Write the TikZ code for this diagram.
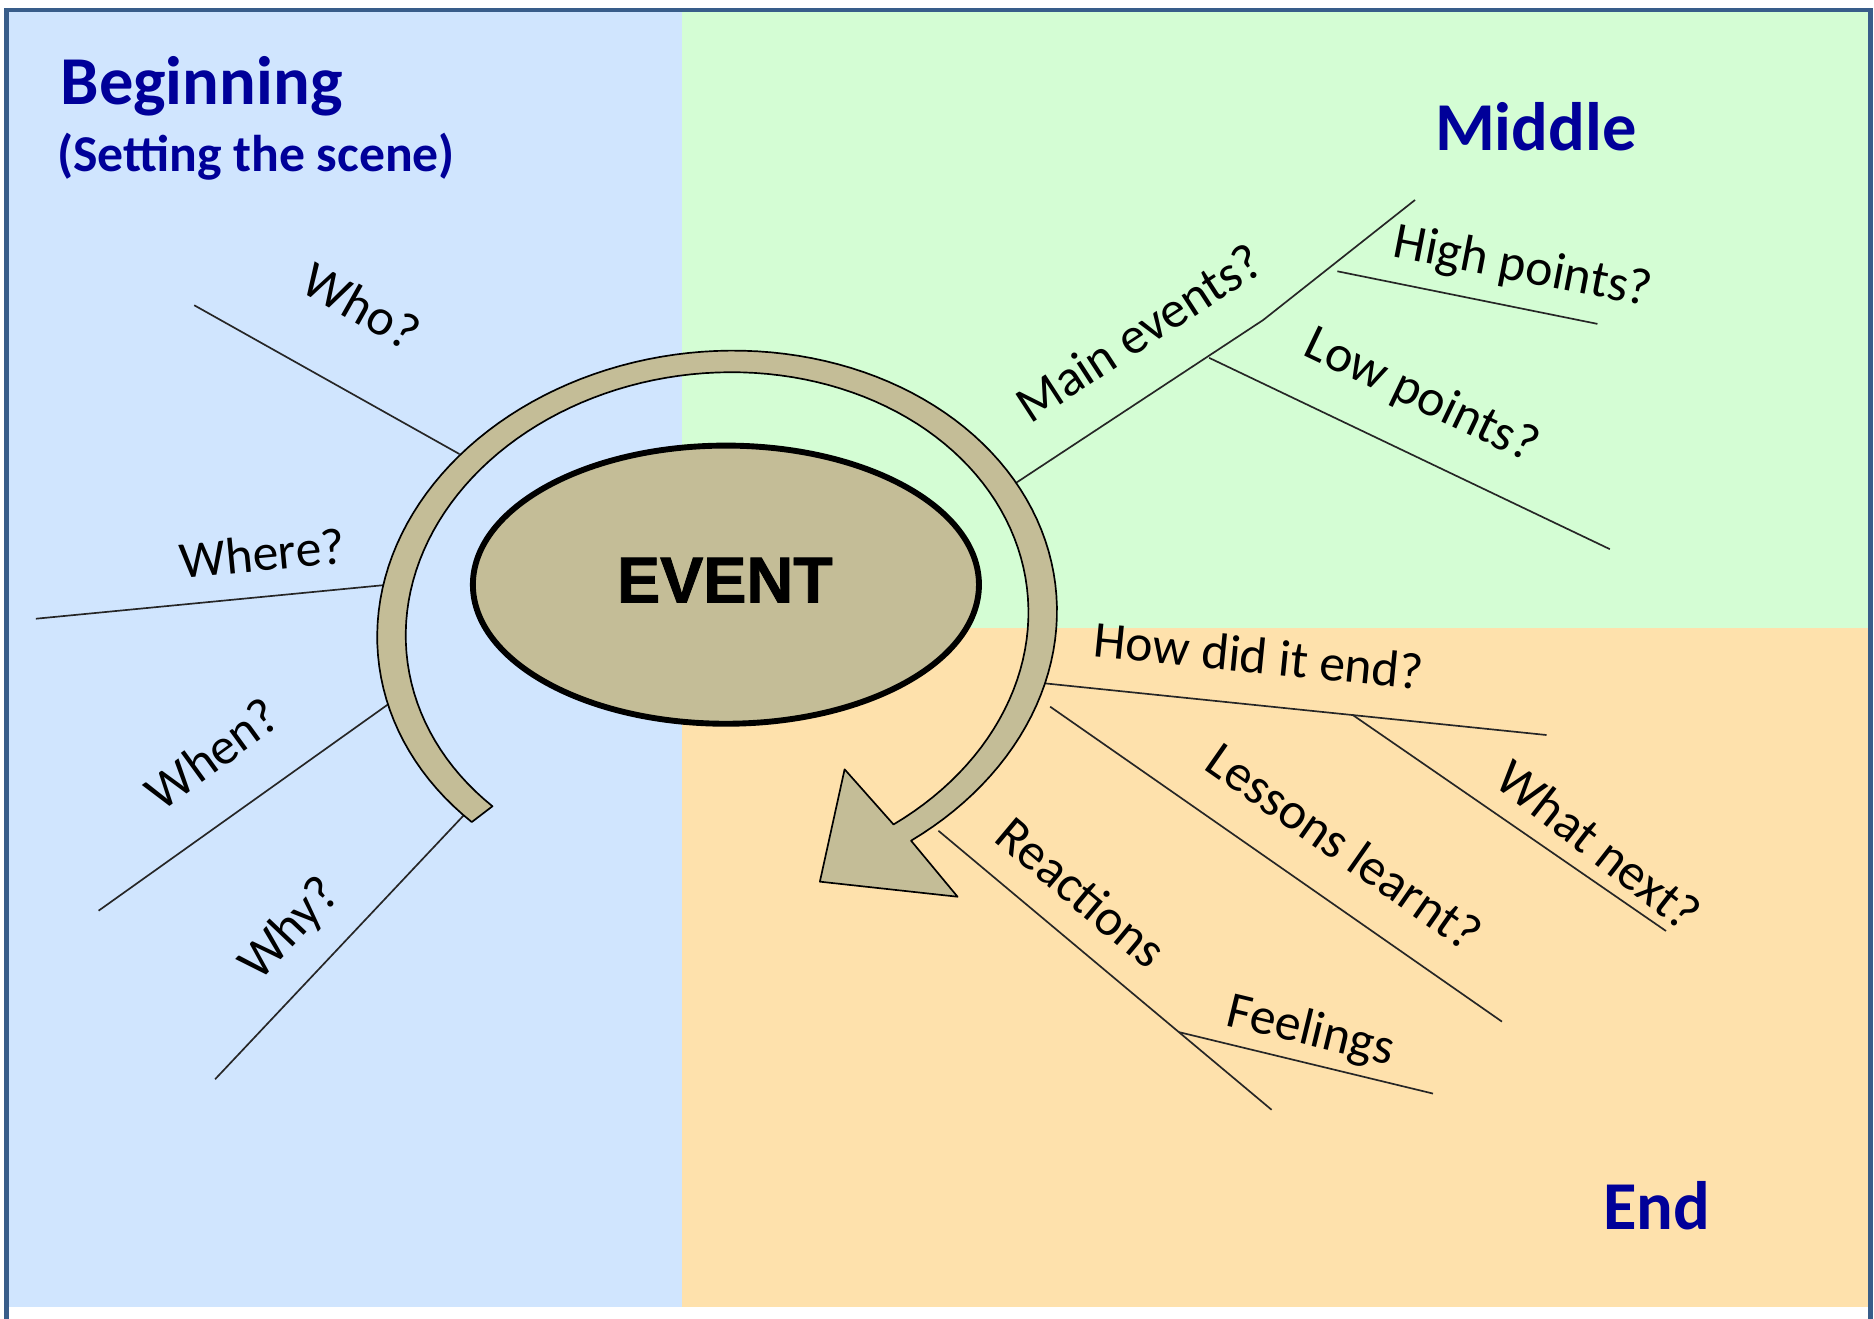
\documentclass[tikz,border=0pt]{standalone}
\usepackage{fontspec}
\setmainfont{Carlito}
\newfontfamily\arialfont{Liberation Sans}[BoldFeatures={FakeBold=1.3}]
\usetikzlibrary{shapes.geometric}
\definecolor{begblue}{RGB}{208,229,254}
\definecolor{midgreen}{RGB}{212,253,212}
\definecolor{endpeach}{RGB}{254,225,172}
\definecolor{tan}{RGB}{196,189,151}
\definecolor{hdblue}{RGB}{0,0,153}
\definecolor{framecol}{RGB}{56,93,138}

\begin{document}
\begin{tikzpicture}[x=0.01cm,y=-0.01cm,samples=120,
    twig/.style={draw=black!85,line width=0.4pt},
    lbl/.style={font=\fontsize{12.3}{14}\selectfont,inner sep=0pt},
    head/.style={font=\fontsize{16.3}{19}\selectfont\bfseries,text=hdblue,inner sep=0pt,anchor=base west},
    band/.style={fill=tan,draw=black,line width=0.4pt,line join=round}]
    \useasboundingbox (0,0) rectangle (1568,1103.6);
    \fill[white] (0,0) rectangle (1568,1103.6);
    % the three parts
    \fill[begblue] (5,8) rectangle (570.4,1094);
    \fill[midgreen] (570.4,8) rectangle (1565,525.8);
    \fill[endpeach] (570.4,525.8) rectangle (1565,1094);
    \draw[framecol,line width=1pt] (5.5,1110) -- (5.5,8.5) -- (1565,8.5) -- (1565,1110);
    \node[head] (beginning) at (50,87.4) {Beginning};
    \node[head,font=\fontsize{12.3}{14}\selectfont\bfseries] (scene) at (47,143.7) {(Setting the scene)};
    \node[head] (middle) at (1200,126) {Middle};
    \node[head] (ending) at (1341,1028.7) {End};
    % branch ends
    \coordinate (who-a) at (162.5,255.4);   \coordinate (who-b) at (384.4,379.9);
    \coordinate (where-a) at (30,517.7);    \coordinate (where-b) at (322.2,489.5);
    \coordinate (when-a) at (82.5,762);     \coordinate (when-b) at (324.5,589.5);
    \coordinate (why-a) at (180,903);       \coordinate (why-b) at (388,682.2);
    \coordinate (main-a) at (849.4,404.5);  \coordinate (main-k) at (1057,267.7);
    \coordinate (main-b) at (1184,167.3);
    \coordinate (low-a) at (1011.7,299.4);  \coordinate (low-b) at (1347,459.5);
    \coordinate (high-a) at (1119,227);     \coordinate (high-b) at (1336.6,271);
    \coordinate (how-a) at (874.5,571.8);   \coordinate (how-b) at (1294,615);
    \coordinate (next-a) at (1131.5,598);   \coordinate (next-b) at (1394,779);
    \coordinate (less-a) at (878.7,591.3);  \coordinate (less-b) at (1256.7,854.8);
    \coordinate (react-a) at (785.2,695.1); \coordinate (react-b) at (1064,928.6);
    \coordinate (feel-a) at (986.5,863.6);  \coordinate (feel-b) at (1199,915);
    \foreach \b in {who,where,when,why,low,high,how,next,less,react,feel}
        \draw[twig] (\b-a) -- (\b-b);
    \draw[twig] (main-a) -- (main-k) -- (main-b);
    % labels
    \node[lbl,rotate=-29.5] (who) at (302.5,256) {Who?};
    \node[lbl,rotate=5.5] (where) at (219.5,463) {Where?};
    \node[lbl,rotate=36] (when) at (177.5,630.5) {When?};
    \node[lbl,rotate=46.5] (why) at (243,778) {Why?};
    \node[lbl,rotate=33] (main) at (952.7,278.2) {Main events?};
    \node[lbl,rotate=-25.5] (low) at (1189,332) {Low points?};
    \node[lbl,rotate=-11] (high) at (1274,224.5) {High points?};
    \node[lbl,rotate=-5.7] (how) at (1053.5,548.5) {How did it end?};
    \node[lbl,rotate=-38] (next) at (1338,707) {What next?};
    \node[lbl,rotate=-35] (less) at (1125,708) {Lessons learnt?};
    \node[lbl,rotate=-40] (react) at (905,746.5) {Reactions};
    \node[lbl,rotate=-13.6] (feel) at (1096.5,863.4) {Feelings};
    % the circular arrow (tilted ellipse band)
    \draw[band] plot[domain=141:420] ({600+283.4*cos(\x)+23.8*sin(\x)},{522-29.8*cos(\x)+226.7*sin(\x)})
        -- (801.2,750.3) -- (686,737.7) -- (706.7,643.7)
        -- plot[domain=420.3:141] ({600+259.6*cos(\x)+21.9*sin(\x)},{522-27.3*cos(\x)+208.8*sin(\x)}) -- cycle;
    \node[ellipse,fill=tan,draw=black,line width=1.4pt,minimum width=4.232cm,minimum height=2.326cm,inner sep=0pt] (event) at (607.4,489.2) {};
    \node[font=\arialfont\bfseries\fontsize{15.4}{18}\selectfont,inner sep=0pt] (eventtxt) at (606.5,485.4) {EVENT};
\end{tikzpicture}
\end{document}
